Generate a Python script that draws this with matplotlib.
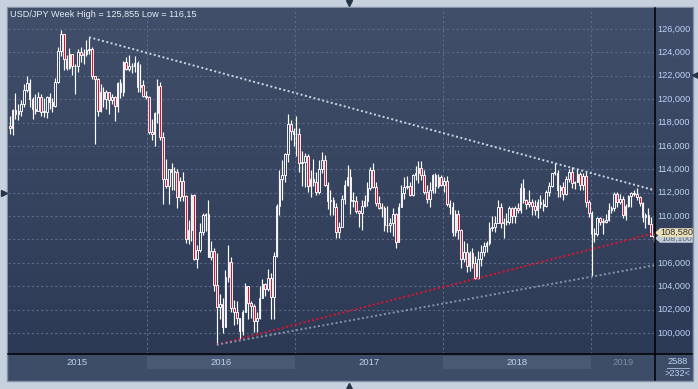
"""
USD/JPY weekly candles 2015-2019 with three trend lines, drawn in the
dark-blue style of a trading terminal. Saves out.png (698x389 px).
"""

import numpy as np
import pandas as pd
import matplotlib
matplotlib.use('Agg')
import matplotlib.pyplot as plt
import matplotlib.dates as mdates
from matplotlib.patches import Rectangle, Polygon
from matplotlib.colors import LinearSegmentedColormap
from matplotlib.transforms import blended_transform_factory

plt.rcParams['font.family'] = ['Liberation Sans', 'DejaVu Sans']

# ── Data (weekly bars, first week starts 2015-01-26) ───────────────────────
WEEK_START = "2015-01-26"

OPENS = [
    117.7, 117.5, 119.1, 118.7, 119.0, 119.6, 120.8, 121.4, 120.0, 119.2,
    119.0, 120.2, 118.9, 118.9, 120.2, 119.8, 119.4, 121.5, 124.1, 125.6,
    123.4, 122.7, 123.9, 122.8, 122.8, 124.0, 123.8, 123.9, 124.2, 124.3,
    122.0, 121.7, 119.0, 120.6, 120.0, 120.6, 119.9, 120.2, 119.4, 121.4,
    120.6, 123.2, 122.6, 122.8, 122.8, 123.1, 121.0, 121.2, 120.3, 120.2,
    117.2, 117.0, 118.8, 121.1, 116.8, 113.2, 112.6, 114.0, 113.8, 113.8,
    111.6, 113.0, 111.7, 108.0, 108.8, 111.8, 106.3, 107.1, 108.6, 110.1,
    110.2, 106.5, 107.0, 104.1, 102.2, 102.5, 100.5, 104.8, 106.1, 102.1,
    101.8, 101.3, 100.2, 101.8, 104.0, 102.6, 102.3, 101.0, 101.3, 103.0,
    104.2, 103.8, 104.7, 103.1, 106.6, 110.9, 113.2, 113.5, 115.3, 117.9,
    117.3, 117.0, 117.0, 114.5, 114.6, 115.1, 112.6, 113.2, 112.9, 112.1,
    114.0, 114.8, 112.7, 111.3, 111.4, 110.8, 108.6, 109.1, 111.5, 112.7,
    113.3, 111.3, 111.3, 110.4, 110.3, 110.9, 111.3, 112.4, 113.9, 112.5,
    111.1, 110.7, 110.7, 109.2, 109.2, 109.4, 110.2, 107.8, 110.8, 112.0,
    112.5, 112.6, 111.8, 113.5, 113.7, 114.1, 113.5, 112.1, 111.5, 112.2,
    113.5, 112.6, 113.3, 112.7, 113.0, 111.0, 110.8, 108.6, 110.2, 108.8,
    106.3, 106.9, 105.7, 106.8, 106.0, 104.7, 106.3, 106.9, 107.4, 107.7,
    109.0, 109.1, 109.4, 110.8, 109.4, 109.5, 109.5, 110.7, 110.0, 110.7,
    110.5, 112.4, 111.4, 111.0, 111.2, 110.9, 110.5, 111.2, 111.0, 110.9,
    112.1, 112.6, 113.7, 113.7, 112.2, 112.5, 111.9, 113.2, 113.8, 112.8,
    112.9, 113.6, 112.7, 113.4, 111.2, 110.3, 108.5, 108.5, 109.8, 109.5,
    109.5, 109.7, 110.5, 110.7, 111.9, 111.2, 111.5, 110.1, 110.9, 111.7,
    112.0, 111.9, 111.6, 111.1, 109.9, 110.1, 109.3, 108.3,
]
HIGHS = [
    118.6, 119.2, 120.5, 119.6, 119.9, 121.3, 122.0, 121.7, 120.2, 120.4,
    120.6, 120.4, 120.1, 120.3, 120.5, 120.1, 121.8, 124.5, 125.9, 125.6,
    123.8, 124.4, 123.9, 123.0, 124.3, 124.5, 124.3, 125.1, 125.3, 124.5,
    122.0, 121.8, 121.3, 121.0, 120.8, 120.6, 120.4, 120.3, 121.5, 121.7,
    123.3, 123.6, 123.8, 123.1, 123.7, 123.3, 123.0, 121.6, 120.7, 120.3,
    118.3, 118.9, 121.7, 121.5, 117.2, 114.9, 114.0, 114.5, 114.2, 114.0,
    113.3, 113.8, 111.8, 109.7, 111.9, 111.9, 107.5, 109.4, 110.3, 110.3,
    111.4, 107.9, 107.3, 106.8, 103.3, 103.0, 105.4, 107.5, 106.5, 102.8,
    102.7, 101.3, 102.0, 104.3, 104.0, 102.7, 102.5, 101.8, 104.0, 104.6,
    104.3, 105.5, 105.1, 106.9, 111.0, 113.9, 114.8, 115.4, 118.7, 118.2,
    117.5, 118.6, 117.5, 115.6, 115.4, 115.3, 113.9, 114.9, 113.8, 114.8,
    115.5, 115.2, 112.9, 112.2, 111.6, 111.1, 109.5, 111.8, 113.1, 114.4,
    114.0, 112.1, 111.7, 110.5, 111.4, 111.8, 112.9, 114.2, 114.5, 112.9,
    111.7, 111.1, 110.9, 110.9, 109.8, 110.7, 110.3, 111.1, 112.7, 113.3,
    113.4, 112.9, 113.6, 114.3, 114.7, 114.7, 113.9, 112.7, 112.9, 113.6,
    113.7, 113.6, 113.5, 113.3, 113.4, 111.4, 111.2, 110.5, 110.5, 108.9,
    107.9, 107.7, 107.0, 107.3, 106.6, 107.0, 107.5, 107.8, 107.9, 109.5,
    110.0, 110.0, 111.4, 111.1, 109.8, 110.3, 110.9, 110.8, 110.9, 111.1,
    112.8, 113.2, 111.5, 112.2, 111.5, 111.4, 111.5, 111.8, 111.5, 112.2,
    112.9, 113.7, 114.5, 113.9, 112.7, 112.9, 113.4, 114.0, 114.2, 113.0,
    114.0, 113.8, 113.7, 113.8, 111.4, 110.4, 109.0, 109.9, 109.9, 109.8,
    110.2, 111.1, 110.9, 112.1, 112.1, 111.9, 111.7, 111.0, 111.8, 112.1,
    112.2, 112.4, 111.7, 111.2, 110.3, 110.7, 109.9, 108.6,
]
LOWS = [
    117.0, 116.9, 118.3, 118.2, 118.6, 119.3, 120.6, 119.3, 118.3, 118.7,
    119.0, 118.6, 118.5, 118.4, 119.2, 118.9, 119.3, 121.4, 123.7, 122.5,
    122.5, 122.6, 122.1, 120.4, 122.3, 123.2, 123.0, 123.7, 123.9, 121.7,
    116.2, 118.6, 118.9, 119.3, 119.2, 118.7, 119.6, 118.1, 118.9, 120.1,
    120.3, 122.5, 122.4, 122.2, 122.3, 120.6, 120.6, 120.2, 120.0, 117.0,
    116.5, 116.0, 118.0, 116.5, 111.0, 112.4, 111.0, 112.2, 112.2, 110.7,
    111.3, 111.3, 107.7, 107.6, 107.9, 106.2, 105.6, 106.9, 108.4, 108.7,
    106.5, 106.2, 103.6, 99.0, 101.2, 100.0, 100.5, 104.4, 101.8, 100.7,
    100.8, 99.5, 99.8, 101.8, 101.2, 101.3, 100.1, 100.1, 101.2, 103.0,
    103.2, 103.6, 101.2, 101.2, 106.5, 110.1, 111.4, 112.9, 114.6, 116.5,
    116.0, 115.1, 113.8, 112.6, 112.5, 112.1, 111.6, 112.6, 111.8, 111.9,
    113.7, 112.6, 110.6, 110.1, 110.1, 108.1, 108.1, 109.1, 111.0, 112.6,
    110.2, 110.8, 110.3, 109.1, 108.8, 110.8, 110.9, 112.2, 112.4, 110.9,
    110.6, 109.9, 108.7, 108.6, 108.6, 108.3, 107.3, 107.8, 110.8, 111.5,
    112.3, 111.7, 111.7, 113.1, 112.8, 113.1, 111.9, 111.1, 110.8, 112.0,
    112.0, 112.4, 112.6, 112.1, 110.9, 110.2, 108.3, 108.3, 108.0, 105.6,
    106.1, 105.2, 105.3, 105.6, 104.6, 104.6, 105.7, 106.6, 106.9, 107.5,
    108.7, 108.6, 109.4, 109.0, 108.1, 109.2, 109.3, 109.4, 109.4, 110.3,
    110.3, 111.1, 110.6, 110.8, 110.1, 110.1, 109.8, 110.7, 110.4, 110.8,
    111.7, 112.5, 113.5, 111.6, 111.6, 111.4, 111.8, 112.9, 112.4, 112.3,
    112.9, 112.2, 112.2, 110.8, 109.9, 104.9, 107.8, 108.3, 109.2, 108.5,
    109.4, 109.6, 110.3, 110.4, 110.8, 111.0, 109.8, 109.7, 110.8, 110.8,
    111.7, 111.4, 110.9, 109.5, 109.0, 109.3, 108.3, 107.8,
]
CLOSES = [
    117.5, 119.1, 118.7, 119.0, 119.6, 120.8, 121.4, 120.0, 119.2, 119.0,
    120.2, 118.9, 118.9, 120.2, 119.8, 119.4, 121.5, 124.1, 125.6, 123.4,
    122.7, 123.9, 122.8, 122.8, 124.0, 123.8, 123.9, 124.2, 124.3, 122.0,
    121.7, 119.0, 120.6, 120.0, 120.6, 119.9, 120.2, 119.4, 121.4, 120.6,
    123.2, 122.6, 122.8, 122.8, 123.1, 121.0, 121.2, 120.3, 120.2, 117.2,
    117.0, 118.8, 121.1, 116.8, 113.2, 112.6, 114.0, 113.8, 113.8, 111.6,
    113.0, 111.7, 108.0, 108.8, 111.8, 106.3, 107.1, 108.6, 110.1, 110.2,
    106.5, 107.0, 104.1, 102.2, 102.5, 100.5, 104.8, 106.1, 102.1, 101.8,
    101.3, 100.2, 101.8, 104.0, 102.6, 102.3, 101.0, 101.3, 103.0, 104.2,
    103.8, 104.7, 103.1, 106.6, 110.9, 113.2, 113.5, 115.3, 117.9, 117.3,
    117.0, 117.0, 114.5, 114.6, 115.1, 112.6, 113.2, 112.9, 112.1, 114.0,
    114.8, 112.7, 111.3, 111.4, 110.8, 108.6, 109.1, 111.5, 112.7, 113.3,
    111.3, 111.3, 110.4, 110.3, 110.9, 111.3, 112.4, 113.9, 112.5, 111.1,
    110.7, 110.7, 109.2, 109.2, 109.4, 110.2, 107.8, 110.8, 112.0, 112.5,
    112.6, 111.8, 113.5, 113.7, 114.1, 113.5, 112.1, 111.5, 112.2, 113.5,
    112.6, 113.3, 112.7, 113.0, 111.0, 110.8, 108.6, 110.2, 108.8, 106.3,
    106.9, 105.7, 106.8, 106.0, 104.7, 106.3, 106.9, 107.4, 107.7, 109.0,
    109.1, 109.4, 110.8, 109.4, 109.5, 109.5, 110.7, 110.0, 110.7, 110.5,
    112.4, 111.4, 111.0, 111.2, 110.9, 110.5, 111.2, 111.0, 110.9, 112.1,
    112.6, 113.7, 113.7, 112.2, 112.5, 111.9, 113.2, 113.8, 112.8, 112.9,
    113.6, 112.7, 113.4, 111.2, 110.3, 108.5, 108.5, 109.8, 109.5, 109.5,
    109.7, 110.5, 110.7, 111.9, 111.2, 111.5, 110.1, 110.9, 111.7, 112.0,
    111.9, 111.6, 111.1, 109.9, 110.1, 109.3, 108.3, 108.2,
]

# trend lines: (date, price) start / end
TREND_UPPER = [("2015-08-11", 125.3), ("2019-06-07", 112.2)]
TREND_RED = [("2016-06-21", 99.0), ("2019-06-07", 108.55)]
TREND_GRAY = [("2016-06-21", 99.0), ("2019-06-07", 105.8)]

Y_TICKS = [100, 102, 104, 106, 108, 110, 112, 114, 116, 118, 120, 122, 124, 126]
YEARS = [2015, 2016, 2017, 2018, 2019]
XLIM = ("2015-01-23", "2019-06-07")
YLIM = (98.2, 127.8)

TITLE = "USD/JPY Week High = 125,855 Low = 116,15"
LAST_PRICE = 108.58
HIDDEN_PRICE = 108.10
BARS_TOTAL = "2588"
BARS_SHOWN = ">232<"

# ── Style ───────────────────────────────────────────────────────────────────
W, H = 698, 389
BG_TOP, BG_BOT = '#414f6b', '#2c3a56'
GRID = '#5a6a88'
RED = '#e0102f'
LABEL = '#b9d2f2'


def px(x0, y0, x1, y1):
    """pixel box (top-left origin) -> figure fraction rect"""
    return [x0 / W, 1 - y1 / H, (x1 - x0) / W, (y1 - y0) / H]


def gradient(ax, top, bot):
    cmap = LinearSegmentedColormap.from_list('bg', [bot, top])
    ax.imshow(np.linspace(0, 1, 256)[::-1, None], cmap=cmap, aspect='auto',
              extent=[0, 1, 0, 1], transform=ax.transAxes, zorder=0)


def main():
    assert len(OPENS) == len(HIGHS) == len(LOWS) == len(CLOSES)
    weeks = pd.date_range(WEEK_START, periods=len(CLOSES), freq='7D')
    xs = mdates.date2num(weeks) + 1.5
    xlim = mdates.date2num(pd.to_datetime(list(XLIM)))

    fig = plt.figure(figsize=(W / 100, H / 100), dpi=100)
    fig.patch.set_facecolor('#c6d1dd')

    # background frame
    ax_bg = fig.add_axes([0, 0, 1, 1], zorder=-5)
    ax_bg.set_xlim(0, W)
    ax_bg.set_ylim(H, 0)
    ax_bg.axis('off')
    ax_bg.add_patch(Rectangle((7, 7), 686, 374, facecolor='#3d4c67',
                              edgecolor='#8593a8', lw=1))

    # ── main price panel ──
    ax = fig.add_axes(px(8, 8, 655, 354), zorder=2)
    gradient(ax, BG_TOP, BG_BOT)
    for v in Y_TICKS:
        ax.axhline(v, color=GRID, lw=0.8, dashes=(2, 2.2), zorder=1)
    for yr in YEARS[1:]:
        ax.axvline(mdates.date2num(pd.Timestamp(f"{yr}-01-01")), color=GRID,
                   lw=0.8, dashes=(2, 2.2), zorder=1)

    body_w = 4.0
    for x, o, h, l, c in zip(xs, OPENS, HIGHS, LOWS, CLOSES):
        ax.vlines(x, l, h, color='white', lw=0.85, zorder=2)
        lo, hi = min(o, c), max(o, c)
        face = RED if c < o else '#34425e'
        ax.add_patch(Rectangle((x - body_w / 2, lo), body_w, max(hi - lo, 0.05),
                               facecolor=face, edgecolor='white', lw=0.65,
                               zorder=3))

    for line, col in ((TREND_UPPER, '#cdd5e0'), (TREND_RED, '#e3122c'),
                      (TREND_GRAY, '#8795ab')):
        lx = mdates.date2num(pd.to_datetime([p[0] for p in line]))
        ly = [p[1] for p in line]
        ax.plot(lx, ly, color=col, lw=1.4, ls=(0, (1, 1.3)), zorder=4)

    ax.text(2 / 647, 1 - 6.5 / 346, TITLE, transform=ax.transAxes,
            color='#e4ebf4', fontsize=6.6, va='center', ha='left', zorder=6)

    ax.set_xlim(*xlim)
    ax.set_ylim(*YLIM)
    ax.set_xticks([])
    ax.set_yticks([])
    for s in ax.spines.values():
        s.set_visible(False)

    # ── right price axis ──
    ax_r = fig.add_axes(px(655, 8, 692, 354), zorder=1)
    gradient(ax_r, BG_TOP, BG_BOT)
    ax_r.set_xlim(0, 1)
    ax_r.set_ylim(*YLIM)
    ax_r.axis('off')
    tr = blended_transform_factory(ax_r.transAxes, ax_r.transData)
    hh = 4.5 / 346 * (YLIM[1] - YLIM[0])
    for v in Y_TICKS:
        # tick labels under the price tags are hidden, as on the terminal
        if HIDDEN_PRICE - hh <= v <= LAST_PRICE + hh:
            continue
        ax_r.text(0.07, v, f"{v:.3f}".replace('.', ','), color=LABEL,
                  fontsize=6.6, va='center', ha='left')

    # hidden label (mostly covered by the last-price label)
    ax_r.add_patch(Polygon([(0.0, HIDDEN_PRICE), (0.14, HIDDEN_PRICE + hh),
                            (1.02, HIDDEN_PRICE + hh), (1.02, HIDDEN_PRICE - hh),
                            (0.14, HIDDEN_PRICE - hh)], closed=True,
                           facecolor='#c5ccd8', edgecolor='none',
                           transform=tr, clip_on=False, zorder=5))
    t_hidden = ax_r.text(0.58, HIDDEN_PRICE - 0.06,
                         f"{HIDDEN_PRICE:.3f}".replace('.', ','),
                         color='#55627a', fontsize=6.0, va='center',
                         ha='center', transform=tr, zorder=5.5)
    clip = Rectangle((0.0, HIDDEN_PRICE - hh), 1.05, LAST_PRICE - HIDDEN_PRICE,
                     transform=tr, visible=False)
    ax_r.add_patch(clip)
    t_hidden.set_clip_path(clip)

    # last price label
    ax_r.add_patch(Polygon([(0.0, LAST_PRICE), (0.14, LAST_PRICE + hh),
                            (1.02, LAST_PRICE + hh), (1.02, LAST_PRICE - hh),
                            (0.14, LAST_PRICE - hh)], closed=True,
                           facecolor='#ebe1b9', edgecolor='none',
                           transform=tr, clip_on=False, zorder=6))
    ax_r.text(0.58, LAST_PRICE, f"{LAST_PRICE:.3f}".replace('.', ','),
              color='#303030', fontsize=6.6, va='center', ha='center',
              transform=tr, zorder=7)

    # ── bottom time axis ──
    ax_b = fig.add_axes(px(8, 354, 655, 380), zorder=1)
    ax_b.set_facecolor('#3d4c67')
    ax_b.set_xlim(*xlim)
    ax_b.set_ylim(0, 26)
    ax_b.axis('off')
    for k, yr in enumerate(YEARS):
        a = max(mdates.date2num(pd.Timestamp(f"{yr}-01-01")), xlim[0])
        b = min(mdates.date2num(pd.Timestamp(f"{yr + 1}-01-01")), xlim[1])
        if k % 2 == 1:
            ax_b.add_patch(Rectangle((a, 11), b - a, 13, facecolor='#4b5a74',
                                     edgecolor='none'))
        ax_b.text((a + b) / 2, 17.3, str(yr), ha='center', va='center',
                  fontsize=6.8, color='#7f8ca2' if yr == YEARS[-1] else LABEL)

    ax_c = fig.add_axes(px(655, 354, 692, 380), zorder=1)
    ax_c.set_facecolor('#3d4c67')
    ax_c.set_xlim(655, 692)
    ax_c.set_ylim(380, 354)
    ax_c.axis('off')
    ax_c.text(678, 362, BARS_TOTAL, ha='center', va='center', fontsize=6.6,
              color=LABEL)
    ax_c.plot([667, 689], [368, 368], color='#9fb4d0', lw=0.7)
    ax_c.text(678, 374, BARS_SHOWN, ha='center', va='center', fontsize=6.6,
              color=LABEL)

    # ── overlay: separators and scroll arrows ──
    ax_o = fig.add_axes([0, 0, 1, 1], zorder=10)
    ax_o.set_xlim(0, W)
    ax_o.set_ylim(H, 0)
    ax_o.axis('off')
    ax_o.patch.set_alpha(0)
    ax_o.plot([655, 655], [8, 380], color='black', lw=1.1)
    ax_o.plot([8, 692], [354, 354], color='black', lw=1.1)
    arrow = '#26344a'
    ax_o.plot(349, 3, marker='v', ms=5, color=arrow)
    ax_o.plot(349, 385.5, marker='^', ms=5, color=arrow)
    ax_o.plot(3.5, 193, marker='>', ms=5, color=arrow)
    ax_o.plot(694.5, 75, marker='<', ms=5, color=arrow)

    fig.savefig('out.png', dpi=100)
    plt.close(fig)


if __name__ == '__main__':
    main()
